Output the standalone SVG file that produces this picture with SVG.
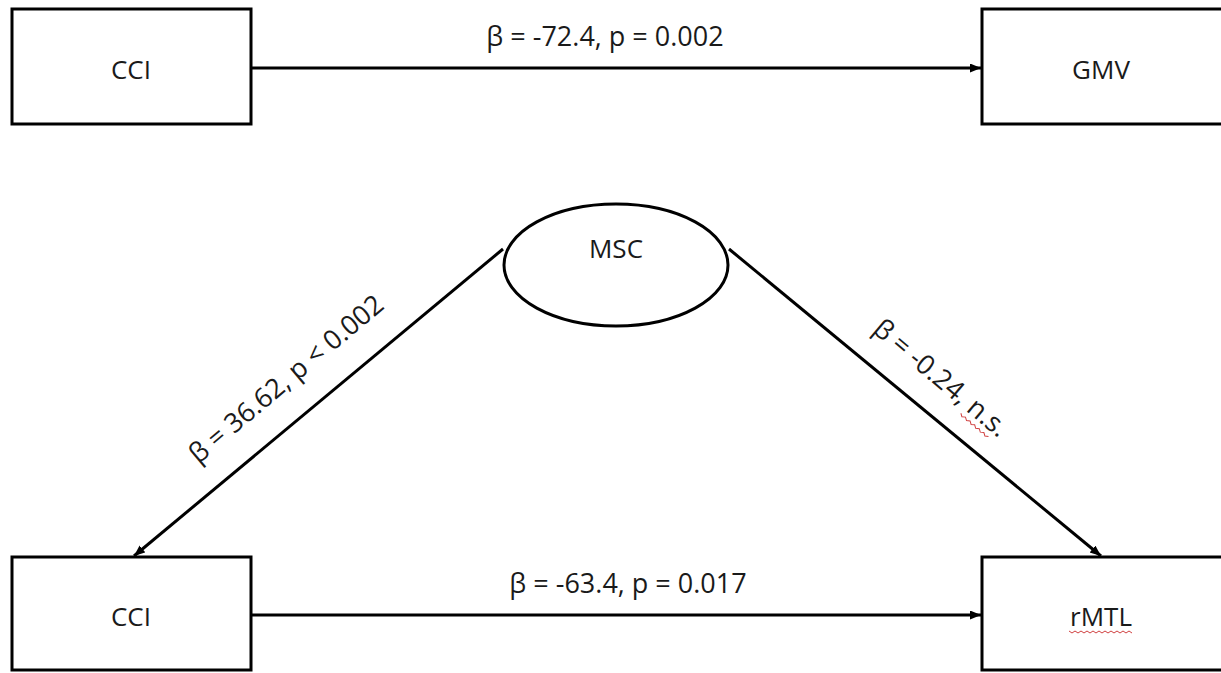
<svg xmlns="http://www.w3.org/2000/svg" width="1221" height="673" viewBox="0 0 1221 673">
<style>
.box{fill:#fff;stroke:#000;stroke-width:3}
.node{font-family:"Open Sans","Noto Sans",sans-serif;font-size:26px;fill:#1a1a1a;text-anchor:middle}
.lbl{font-family:"Open Sans","Noto Sans",sans-serif;font-size:27px;fill:#1a1a1a;text-anchor:middle}
.edge{stroke:#000;stroke-width:3;fill:none;marker-end:url(#ah)}
.sq{stroke:#d04040;stroke-width:1;fill:none}
</style>
<defs>
<marker id="ah" markerUnits="userSpaceOnUse" markerWidth="12" markerHeight="10" refX="11" refY="4.5" orient="auto">
<path d="M0,0 L11,4.5 L0,9 z" fill="#000"/>
</marker>
</defs>
<rect width="1221" height="673" fill="#fff"/>
<g id="edges">
<line class="edge" x1="251" y1="68" x2="981" y2="68"/>
<line class="edge" x1="251" y1="615" x2="981" y2="615"/>
<line class="edge" x1="503" y1="249" x2="134" y2="556"/>
<line class="edge" x1="729" y1="249" x2="1101" y2="556"/>
<text class="lbl" x="605" y="46">β = -72.4, p = 0.002</text>
<text class="lbl" x="628" y="593">β = -63.4, p = 0.017</text>
<text class="lbl" transform="translate(292,386) rotate(-40)">β = 36.62, p &lt; 0.002</text>
<g transform="translate(935,385) rotate(40)">
<text class="lbl" x="0" y="0">β = -0.24, n.s.</text>
<path class="sq" d="M38,5 l3,2 l3,-2 l3,2 l3,-2 l3,2 l3,-2 l3,2 l3,-2 l3,2 l3,-2 l3,2 l3,-2"/>
</g>
</g>
<g id="cci-top">
<rect class="box" x="12" y="9" width="239" height="115"/>
<text class="node" x="131" y="79">CCI</text>
</g>
<g id="gmv">
<rect class="box" x="982" y="9" width="250" height="115"/>
<text class="node" x="1101" y="79">GMV</text>
</g>
<g id="msc">
<ellipse class="box" cx="616" cy="265" rx="112" ry="61"/>
<text class="node" x="616" y="258">MSC</text>
</g>
<g id="cci-bottom">
<rect class="box" x="12" y="557" width="239" height="113"/>
<text class="node" x="131" y="626">CCI</text>
</g>
<g id="rmtl">
<rect class="box" x="982" y="557" width="250" height="113"/>
<text class="node" x="1101" y="626">rMTL</text>
<path class="sq" d="M1069,631 l3,2 l3,-2 l3,2 l3,-2 l3,2 l3,-2 l3,2 l3,-2 l3,2 l3,-2 l3,2 l3,-2 l3,2 l3,-2 l3,2 l3,-2 l3,2 l3,-2 l3,2 l3,-2 l3,2"/>
</g>
</svg>
